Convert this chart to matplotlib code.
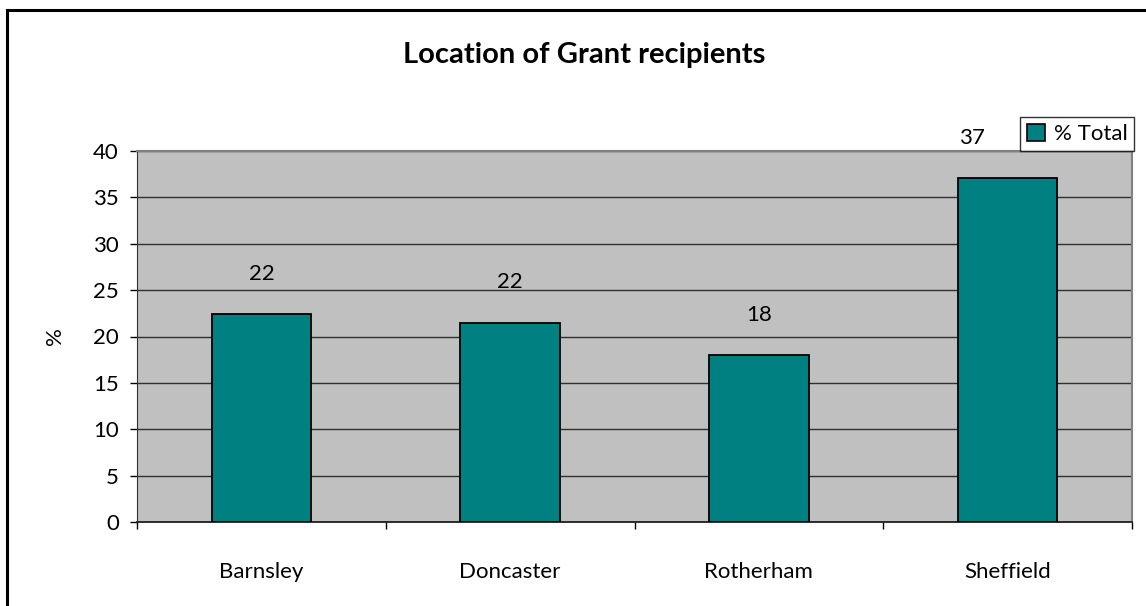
import matplotlib.pyplot as plt
from matplotlib.lines import Line2D
from matplotlib.patches import Patch

plt.rcParams['font.family'] = ['Lato', 'DejaVu Sans']

# data
locations = ['Barnsley', 'Doncaster', 'Rotherham', 'Sheffield']
pct_total = [22.4, 21.5, 18.0, 37.1]
bar_labels = ['22', '22', '18', '37']

fs = 16

fig = plt.figure(figsize=(11.46, 6.06), dpi=100)
ax = fig.add_axes([137 / 1146, 1 - 522 / 606, (1132 - 137) / 1146, (522 - 151) / 606])

ax.set_facecolor('#C0C0C0')
x = range(len(locations))
ax.bar(x, pct_total, width=0.4, color='#008080', edgecolor='black', linewidth=1.3, zorder=3)

for i, v in enumerate(pct_total):
    # the last label is nudged left so it clears the legend box
    dx = -26 if i == len(pct_total) - 1 else 0
    ax.annotate(bar_labels[i], (i, v), xytext=(dx, 29), textcoords='offset points',
                ha='center', va='center', fontsize=fs, zorder=4, annotation_clip=False)

ax.set_xlim(-0.5, len(locations) - 0.5)
ax.set_ylim(0, 40)
ax.set_yticks(range(0, 41, 5))
ax.yaxis.grid(True, color='#303030', linewidth=1.0, zorder=1)
ax.tick_params(axis='y', labelsize=fs, length=5, width=1, pad=8, direction='out')

ax.set_xticks(list(x))
ax.set_xticklabels(locations)
ax.set_xticks([i - 0.5 for i in range(len(locations) + 1)], minor=True)
ax.tick_params(axis='x', which='major', length=0, labelsize=fs, pad=29)
ax.tick_params(axis='x', which='minor', length=5, width=1, direction='out')

ax.spines['left'].set_color('#303030')
ax.spines['bottom'].set_color('#202020')
ax.spines['bottom'].set_linewidth(1.3)
ax.spines['top'].set_color('#808080')
ax.spines['right'].set_color('#808080')
ax.spines['top'].set_linewidth(1.5)
ax.spines['right'].set_linewidth(1.5)

ax.set_ylabel('%', fontsize=fs, labelpad=20)

fig.text(584 / 1146, 1 - 55 / 606, 'Location of Grant recipients', ha='center', va='center',
         fontsize=21, fontweight='bold')

handle = Patch(facecolor='#008080', edgecolor='black', linewidth=1.2)
leg = fig.legend([handle], ['% Total'], loc='lower right',
                 bbox_to_anchor=(1134 / 1146, 1 - 151 / 606), fontsize=fs,
                 frameon=True, fancybox=False, edgecolor='black', borderpad=0.3,
                 handlelength=0.8, handleheight=0.8, handletextpad=0.4, borderaxespad=0)
leg.get_frame().set_linewidth(1.0)

# outer chart frame (only left and top edges are visible)
fig.add_artist(Line2D([7 / 1146, 7 / 1146], [0, 1 - 10 / 606], color='black', linewidth=2.2,
                      transform=fig.transFigure))
fig.add_artist(Line2D([7 / 1146, 1], [1 - 10 / 606, 1 - 10 / 606], color='black', linewidth=2.2,
                      transform=fig.transFigure))

plt.savefig('out.png', dpi=100)
